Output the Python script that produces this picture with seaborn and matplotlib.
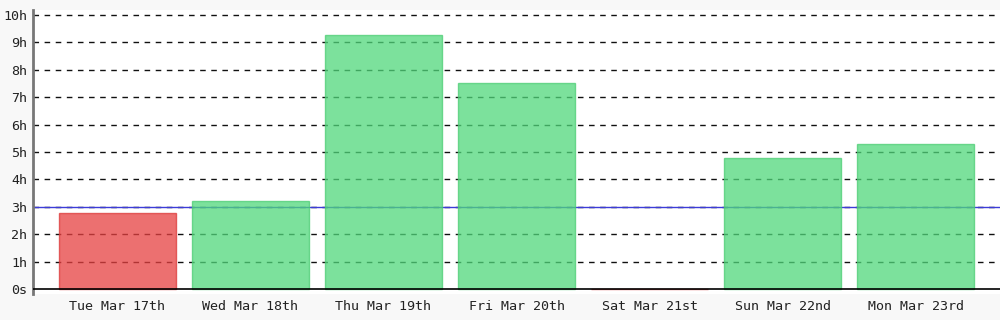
import matplotlib
matplotlib.use("Agg")
import matplotlib.pyplot as plt
import seaborn as sns
import pandas as pd

days = ["Tue Mar 17th", "Wed Mar 18th", "Thu Mar 19th", "Fri Mar 20th",
        "Sat Mar 21st", "Sun Mar 22nd", "Mon Mar 23rd"]
hours = [2.78, 3.21, 9.27, 7.52, 0.0, 4.78, 5.29]
goal = 3.0
ytick_vals = list(range(0, 11))
ytick_labels = ["0s"] + [f"{h}h" for h in range(1, 11)]

sns.set_theme(style="white")
plt.rcParams["font.family"] = ["DejaVu Sans Mono", "DejaVu Sans"]

green_face = (80/255, 216/255, 123/255)
green_edge = (75/255, 205/255, 115/255)
red_face = (230/255, 64/255, 64/255)
red_edge = (220/255, 55/255, 55/255)

df = pd.DataFrame({"day": days, "hours": hours})
df["status"] = ["below" if h < goal else "above" for h in hours]

fig = plt.figure(figsize=(10, 3.2), dpi=100, facecolor="#f8f8f8")
ax = fig.add_axes([0.033, 26/320, 0.967, 284/320])
ax.set_facecolor("white")

# grid below bars
for v in ytick_vals[1:]:
    ax.axhline(v, color="#111111", lw=1, ls=(0, (4, 4)), zorder=0.5)
ax.axhline(goal, color="#3c3cd8", lw=1, zorder=0.6)

sns.barplot(data=df, x="day", y="hours", hue="status",
            palette={"above": green_face, "below": red_face},
            saturation=1, dodge=False, width=0.88, alpha=0.75, legend=False,
            linewidth=1, ax=ax, zorder=1, errorbar=None)

for p in ax.patches:
    fc = p.get_facecolor()
    if fc[0] > 0.8:
        p.set_edgecolor(red_edge)
    else:
        p.set_edgecolor(green_edge)
    p.set_linewidth(1)

ax.axhline(0, color="black", lw=1.2, zorder=3)

ax.set_xlim(-0.635, 6.635)
ax.set_ylim(-0.18, 10.18)
ax.set_yticks(ytick_vals)
ax.set_yticklabels(ytick_labels)
ax.set_xlabel("")
ax.set_ylabel("")
ax.tick_params(axis="both", length=0, labelsize=9.6, colors="#222222")
ax.tick_params(axis="y", pad=4)
ax.tick_params(axis="x", pad=4)

for s in ["top", "right", "bottom"]:
    ax.spines[s].set_visible(False)
ax.spines["left"].set_color("#777777")
ax.spines["left"].set_linewidth(2)

fig.savefig("out.png", dpi=100, facecolor=fig.get_facecolor())
